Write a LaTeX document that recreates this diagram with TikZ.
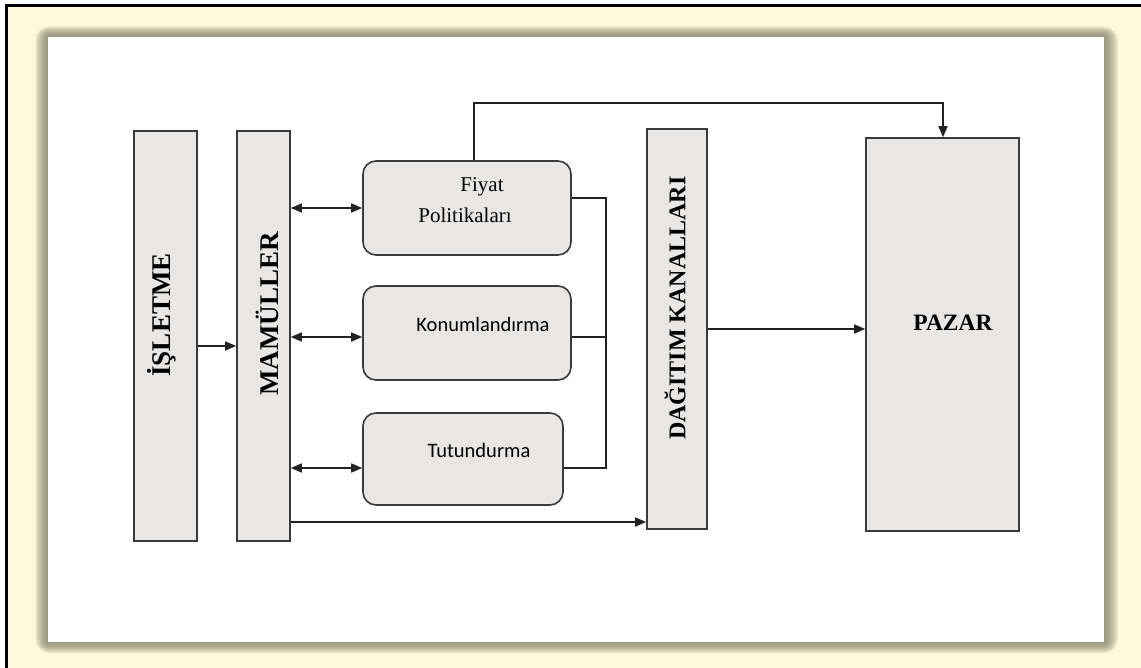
\documentclass[tikz,border=0pt]{standalone}
\usepackage{fontspec}
\setmainfont{Liberation Serif}
\newfontfamily\calib{Carlito}
\usetikzlibrary{arrows.meta}
\definecolor{cream}{HTML}{FEF8DC}
\definecolor{boxfill}{HTML}{E8E7E6}
\definecolor{boxline}{HTML}{3A3A3A}
\definecolor{linec}{HTML}{222222}
\definecolor{shadowc}{HTML}{85836E}
\tikzset{
  blockbox/.style={draw=boxline, line width=1.6pt, fill=boxfill, inner sep=0pt, rectangle},
  roundbox/.style={blockbox, rounded corners=13pt},
  vlabel/.style={rotate=90, font=\fontsize{27}{30}\selectfont\bfseries, inner sep=0pt},
  conn/.style={draw=linec, line width=1.5pt},
  arr/.style={conn, -{Triangle[length=11pt,width=9pt]}},
  darr/.style={conn, {Triangle[length=11pt,width=9pt]}-{Triangle[length=11pt,width=9pt]}},
}
\begin{document}
\begin{tikzpicture}[x=1pt,y=-1pt]
\useasboundingbox (0,0) rectangle (1141,668);
% background
\fill[white] (0,0) rectangle (1141,668);
\fill[cream] (6,6) rectangle (1141,668);
\draw[black, line width=3pt] (6.5,668) -- (6.5,5.5) -- (1141,5.5);
% soft shadow around the white panel
\foreach \r in {14,13,...,1} {
  \fill[shadowc, fill opacity=0.1, rounded corners=\r pt] (48-\r*0.9,37-\r*0.75) rectangle (1104+\r,642+\r*0.8);
}
\fill[white] (48,37) rectangle (1104,642);

% blocks
\node[blockbox, minimum width=63pt, minimum height=410pt] (isl) at (165.5,336) {};
\node[blockbox, minimum width=53pt, minimum height=410pt] (mam) at (263.5,336) {};
\node[roundbox, minimum width=208pt, minimum height=94pt] (fiy) at (467,208) {};
\node[roundbox, minimum width=208pt, minimum height=94pt] (kon) at (467,333) {};
\node[roundbox, minimum width=200pt, minimum height=92pt] (tut) at (463,459) {};
\node[blockbox, minimum width=60pt, minimum height=400pt] (dag) at (677,329) {};
\node[blockbox, minimum width=153pt, minimum height=393pt] (paz) at (942.5,334.5) {};

% labels
\node[vlabel] (islt) at (162,315) {İŞLETME};
\node[vlabel] (mamt) at (267,314) {MAMÜLLER};
\node[vlabel, font=\fontsize{24}{28}\selectfont\bfseries] (dagt) at (675,308) {DAĞITIM KANALLARI};
\node[font=\fontsize{23.5}{28}\selectfont\bfseries, inner sep=0pt] (pazt) at (953,323) {PAZAR};
\node[font=\fontsize{21}{28}\selectfont, inner sep=0pt] (fiyt1) at (482,187) {Fiyat};
\node[font=\fontsize{21}{28}\selectfont, inner sep=0pt] (fiyt2) at (465,215) {Politikaları};
\node[font=\calib\fontsize{20.5}{24}\selectfont, inner sep=0pt] (kont) at (483,324) {Konumlandırma};
\node[font=\calib\fontsize{20.5}{24}\selectfont, inner sep=0pt] (tutt) at (479,450) {Tutundurma};

% connectors
\draw[arr] (isl.east |- 0,346) -- (mam.west |- 0,346);
\draw[darr] (mam.east |- 0,208) -- (fiy.west |- 0,208);
\draw[darr] (mam.east |- 0,337) -- (kon.west |- 0,337);
\draw[darr] (mam.east |- 0,468) -- (tut.west |- 0,468);
\coordinate (busT) at (606,198);
\coordinate (busB) at (606,468);
\draw[conn] (fiy.east |- busT) -- (busT) -- (busB) -- (tut.east |- busB);
\draw[conn] (kon.east |- 0,337) -- (busT |- 0,337);
\coordinate (topL) at (474,103);
\coordinate (topR) at (943,103);
\draw[arr] (fiy.north -| topL) -- (topL) -- (topR) -- (paz.north -| topR);
\draw[arr] (dag.east |- 0,329) -- (paz.west |- 0,329);
\draw[arr] (mam.east |- 0,522) -- (dag.west |- 0,522);
\end{tikzpicture}
\end{document}
